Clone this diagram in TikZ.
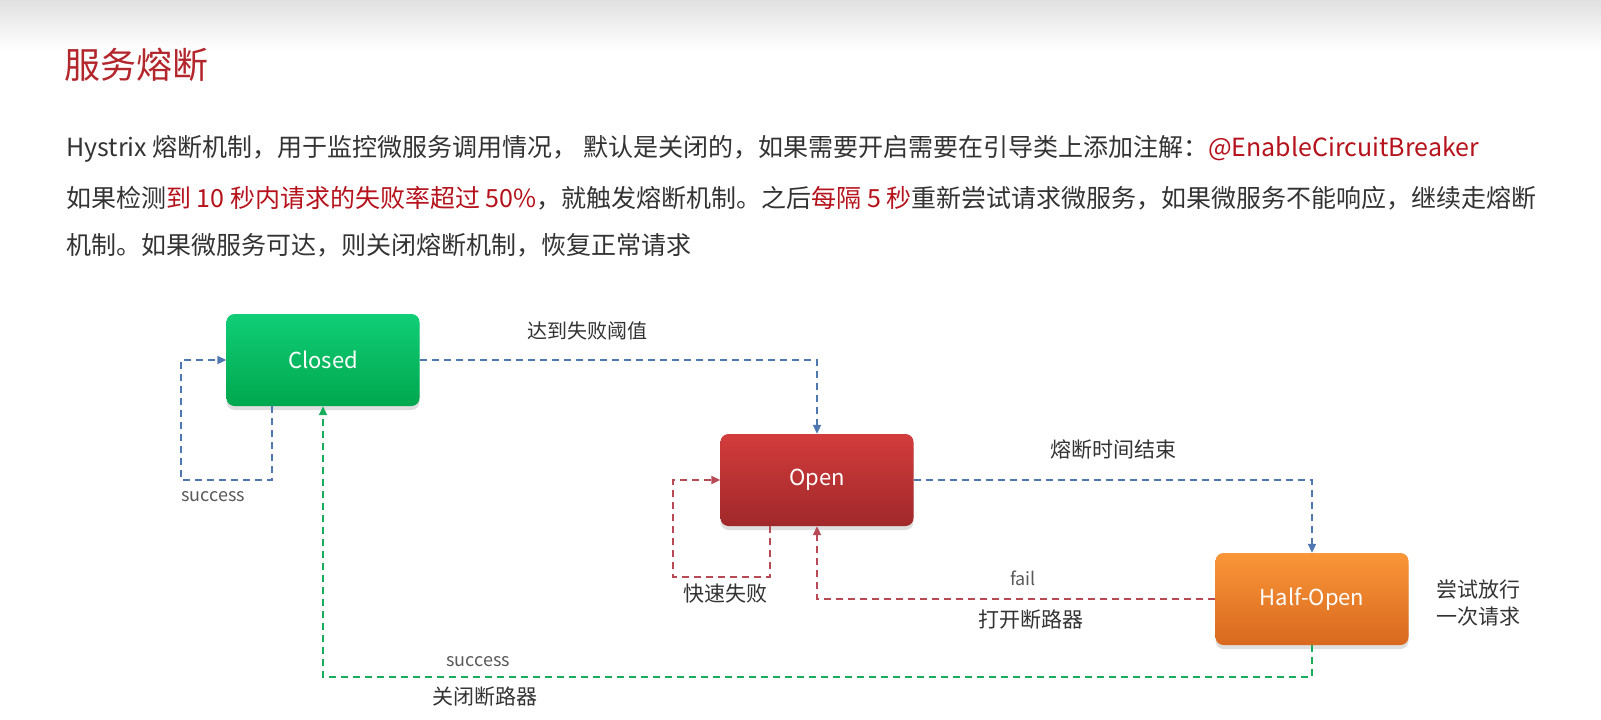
\documentclass[tikz,border=0pt]{standalone}
\usepackage{fontspec}
\setmainfont{Noto Sans CJK SC}
\usetikzlibrary{arrows.meta,positioning,calc,shadows}
\definecolor{titlered}{HTML}{B3262C}
\definecolor{hired}{HTML}{B5121B}
\definecolor{bodytext}{HTML}{333333}
\definecolor{flowblue}{HTML}{4F78B0}
\definecolor{flowred}{HTML}{B84A55}
\definecolor{flowgreen}{HTML}{17AD5A}
\definecolor{closedtop}{HTML}{10CE76}
\definecolor{closedbot}{HTML}{00A74E}
\definecolor{opentop}{HTML}{D33C3C}
\definecolor{openbot}{HTML}{A0282A}
\definecolor{halftop}{HTML}{FA9638}
\definecolor{halfbot}{HTML}{D8681E}

\begin{document}
\begin{tikzpicture}[x=1pt,y=-1pt,>={Triangle[length=9pt,width=8pt]},
  statebox/.style={rounded corners=8pt,minimum width=193pt,minimum height=92pt,text=white,
    font=\fontsize{22}{26}\selectfont,drop shadow={shadow xshift=0pt,shadow yshift=-4pt,opacity=.25}},
  flow/.style={->,line width=2pt,dash pattern=on 7pt off 5pt},
  body/.style={anchor=base west,inner sep=0pt,text=bodytext,font=\fontsize{25}{30}\selectfont},
  lbl/.style={inner sep=0pt,text=bodytext,font=\fontsize{21}{27}\selectfont},
  tag/.style={inner sep=0pt,text=black!65,font=\fontsize{18}{22}\selectfont}]
\useasboundingbox (0,0) rectangle (1601,720);
\shade[top color=black!12,bottom color=white] (0,0) rectangle (1601,50);

% heading and text
\node[anchor=base west,inner sep=0pt,text=titlered,font=\fontsize{36}{40}\selectfont] (title) at (64,78) {服务熔断};
\node[body] (line1) at (66,156) {Hystrix 熔断机制，用于监控微服务调用情况， 默认是关闭的，如果需要开启需要在引导类上添加注解：\textcolor{hired}{@EnableCircuitBreaker}};
\node[body] (line2) at (66,207) {如果检测\textcolor{hired}{到 10 秒内请求的失败率超过 50\%}，就触发熔断机制。之后\textcolor{hired}{每隔 5 秒}重新尝试请求微服务，如果微服务不能响应，继续走熔断};
\node[body] (line3) at (66,254) {机制。如果微服务可达，则关闭熔断机制，恢复正常请求};

% states
\node[statebox,top color=closedtop,bottom color=closedbot] (closed) at (323,360) {Closed};
\node[statebox,top color=opentop,bottom color=openbot] (open) at (817,480) {Open};
\node[statebox,top color=halftop,bottom color=halfbot] (half) at (1312,599) {Half-Open};

% transitions
\coordinate (cloop) at (181,480);
\coordinate (oloop) at (673,577);
\coordinate (gback) at (323,677);
\draw[flow,flowblue] (closed.east) -| (open.north);
\draw[flow,flowblue] ([xshift=-51pt]closed.south) |- (cloop) |- (closed.west);
\draw[flow,flowblue] (open.east) -| (half.north);
\draw[flow,flowred] ([xshift=-47pt]open.south) |- (oloop) |- (open.west);
\draw[flow,flowred] (half.west) -| (open.south);
\draw[flow,flowgreen] (half.south) |- (gback) -- (closed.south);

% labels
\node[lbl,font=\fontsize{20}{24}\selectfont] (tthresh) at (587,331) {达到失败阈值};
\node[tag] (tsucc1) at (213,497) {success};
\node[lbl] (ttimeout) at (1113,450) {熔断时间结束};
\node[lbl] (tfast) at (725,594) {快速失败};
\node[tag] (tfail) at (1023,578) {fail};
\node[lbl] (topen) at (1031,620) {打开断路器};
\node[lbl,align=center] (ttry) at (1478,603) {尝试放行\\一次请求};
\node[tag] (tsucc2) at (478,662) {success};
\node[lbl] (tclose) at (485,697) {关闭断路器};
\end{tikzpicture}
\end{document}
